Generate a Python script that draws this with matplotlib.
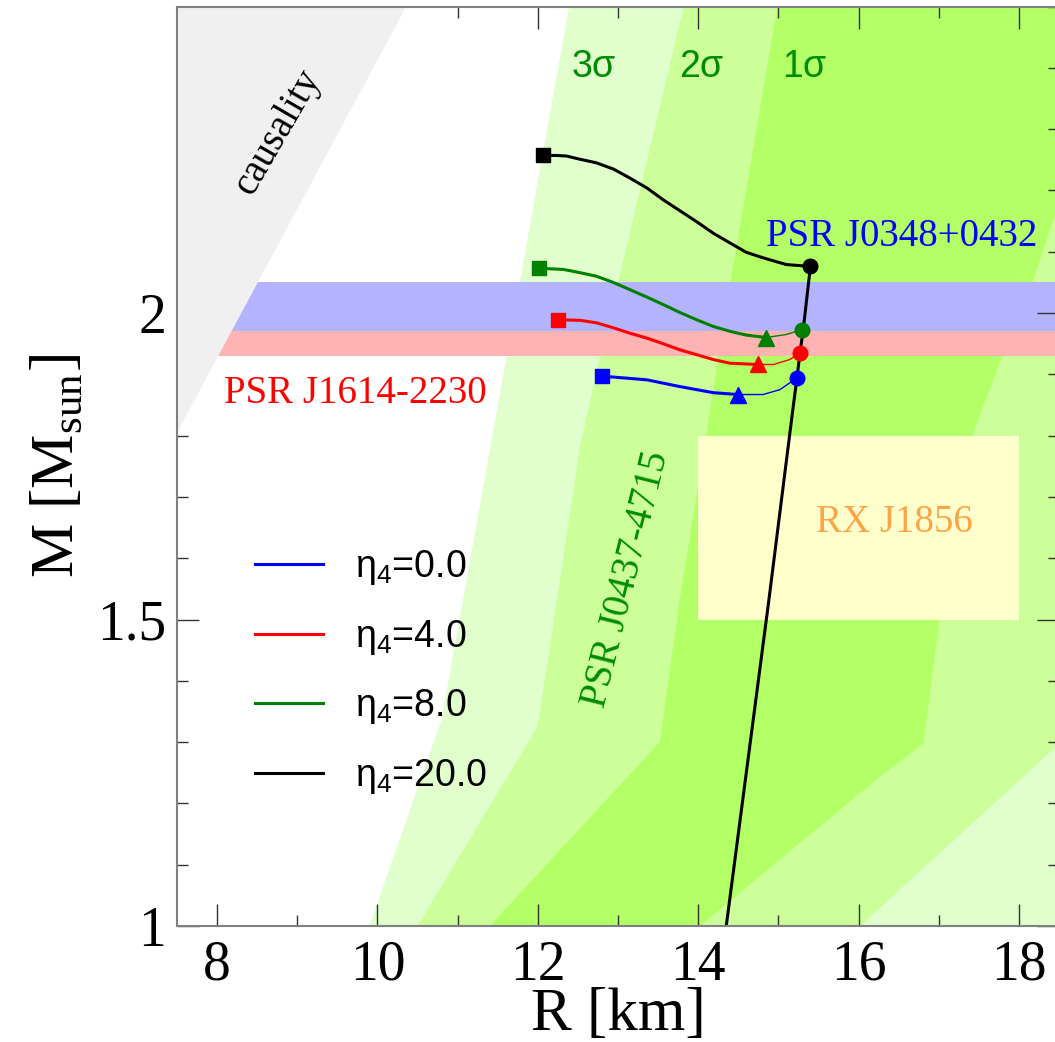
import numpy as np
import matplotlib.pyplot as plt
from matplotlib.patches import Polygon, Rectangle

plt.rcParams['mathtext.fontset'] = 'custom'
plt.rcParams['mathtext.rm'] = 'Liberation Serif'
plt.rcParams['mathtext.sf'] = 'Liberation Sans'

SERIF = 'Liberation Serif'
SANS = 'Liberation Sans'

R_MIN, R_MAX = 7.5, 18.5
M_MIN, M_MAX = 1.0, 2.5

# PSR J0437-4715 confidence regions: left / right edges as (R, M) vertices
c3_left_R = [12.39, 10.80, 9.90]
c3_left_M = [2.50, 1.337, 1.00]
c2_left_R = [13.82, 12.71, 12.52, 12.00, 10.50]
c2_left_M = [2.50, 1.891, 1.777, 1.326, 1.00]
c2_right_R = [16.02, 18.50]
c2_right_M = [1.00, 1.297]
c1_left_R = [14.99, 14.42, 14.10, 13.77, 13.52, 11.40]
c1_left_M = [2.50, 2.065, 1.80, 1.532, 1.30, 1.00]
c1_right_R = [14.02, 16.27, 16.81, 17.01, 17.43, 17.80, 18.17, 18.50]
c1_right_M = [1.00, 1.244, 1.298, 1.50, 1.805, 1.932, 2.05, 2.18]

# causality limit
caus_R = [7.50, 10.36]
caus_M = [1.805, 2.50]

# mass measurements (central value, error)
j0348 = (2.01, 0.04)
j1614 = (1.97, 0.04)
# RX J1856 box
rx_R = (14.0, 18.0)
rx_M = (1.5, 1.8)

# hadronic branch shared by all eta_4
stem_R = [14.35, 14.65, 14.88, 15.18, 15.23, 15.27, 15.31, 15.40]
stem_M = [1.00, 1.30, 1.53, 1.842, 1.892, 1.935, 1.973, 2.076]

eta4 = [0.0, 4.0, 8.0, 20.0]
colors = ['blue', 'red', 'green', 'black']

# mixed phase (onset circle -> triangle), thin line
mix_R = [
    [15.23, 15.02, 14.81, 14.50],
    [15.27, 15.14, 14.94, 14.74],
    [15.30, 15.10, 14.85],
    [],
]
mix_M = [
    [1.894, 1.875, 1.867, 1.867],
    [1.935, 1.924, 1.916, 1.916],
    [1.973, 1.965, 1.960],
    [],
]
# quark branch (triangle -> maximum mass square), thick line
quark_R = [
    [14.50, 14.19, 13.77, 13.36, 12.80],
    [14.74, 14.40, 14.19, 13.98, 13.77, 13.56, 13.36, 13.15, 12.94, 12.73, 12.53, 12.25],
    [14.85, 14.60, 14.40, 14.19, 13.98, 13.77, 13.56, 13.36, 13.15, 12.94, 12.73, 12.52,
     12.32, 12.02],
    [15.40, 15.10, 15.02, 14.81, 14.60, 14.40, 14.19, 13.98, 13.77, 13.56, 13.36, 13.15,
     12.94, 12.73, 12.52, 12.36, 12.23, 12.07],
]
quark_M = [
    [1.867, 1.870, 1.880, 1.891, 1.897],
    [1.916, 1.918, 1.924, 1.932, 1.940, 1.950, 1.959, 1.967, 1.976, 1.984, 1.988, 1.989],
    [1.960, 1.964, 1.970, 1.978, 1.989, 2.001, 2.014, 2.026, 2.038, 2.050, 2.060, 2.066,
     2.071, 2.073],
    [2.076, 2.079, 2.082, 2.090, 2.099, 2.114, 2.130, 2.149, 2.167, 2.185, 2.204, 2.220,
     2.235, 2.245, 2.251, 2.256, 2.257, 2.257],
]


def region(left_R, left_M, right_R, right_M):
    pts = list(zip(left_R, left_M)) + list(zip(right_R, right_M)) + [(R_MAX, M_MAX)]
    return pts


def draw_background(ax):
    c3 = region(c3_left_R, c3_left_M, [R_MAX], [M_MIN])
    c2 = region(c2_left_R, c2_left_M, c2_right_R, c2_right_M)
    c1 = region(c1_left_R, c1_left_M, c1_right_R, c1_right_M)
    for pts, col in [(c3, '#e0ffcc'), (c2, '#ccff99'), (c1, '#b3ff66')]:
        ax.add_patch(Polygon(pts, closed=True, facecolor=col, edgecolor='none', zorder=0))

    ax.add_patch(Rectangle((rx_R[0], rx_M[0]), rx_R[1] - rx_R[0], rx_M[1] - rx_M[0],
                           facecolor='#ffffcc', edgecolor='none', zorder=1))
    ax.axhspan(j1614[0] - j1614[1], j1614[0] + j1614[1], color='#ffb3b3', lw=0, zorder=1)
    ax.axhspan(j0348[0] - j0348[1], j0348[0] + j0348[1], color='#b3b3ff', lw=0, zorder=1.1)

    caus = [(caus_R[0], caus_M[0]), (caus_R[1], caus_M[1]), (R_MIN, M_MAX)]
    ax.add_patch(Polygon(caus, closed=True, facecolor='#f0f0f0', edgecolor='none', zorder=2))


def draw_curves(ax):
    ax.plot(stem_R, stem_M, color='black', lw=2.2, zorder=4)
    for i, col in enumerate(colors):
        if mix_R[i]:
            ax.plot(mix_R[i], mix_M[i], color=col, lw=1.0, zorder=3)
            ax.plot(mix_R[i][-1], mix_M[i][-1], '^', color=col, ms=11, zorder=5)
        ax.plot(quark_R[i], quark_M[i], color=col, lw=2.2, zorder=3,
                solid_joinstyle='round', label=r'η$_\mathsf{4}$=%.1f' % eta4[i])
        # onset of the mixed phase and maximum mass
        start_R = mix_R[i][0] if mix_R[i] else quark_R[i][0]
        start_M = mix_M[i][0] if mix_M[i] else quark_M[i][0]
        ax.plot(start_R, start_M, 'o', color=col, ms=10.5, zorder=6)
        ax.plot(quark_R[i][-1], quark_M[i][-1], 's', color=col, ms=9.5, zorder=6)


def draw_labels(ax):
    green = '#008c00'
    for x, s in [(12.69, '3σ'), (14.04, '2σ'), (15.32, '1σ')]:
        ax.text(x, 2.385, s, color=green, fontsize=27, family=SANS, ha='center', va='baseline')
    ax.text(13.11, 1.565, 'PSR J0437-4715', color=green, fontsize=28, family=SERIF,
            rotation=76, ha='center', va='center')
    ax.text(14.85, 2.11, 'PSR J0348+0432', color='blue', fontsize=28, family=SERIF,
            ha='left', va='baseline')
    ax.text(8.08, 1.853, 'PSR J1614-2230', color='red', fontsize=28, family=SERIF,
            ha='left', va='baseline')
    ax.text(16.45, 1.658, 'RX J1856', color='#ffa347', fontsize=28, family=SERIF,
            ha='center', va='center')
    ax.text(8.76, 2.296, 'causality', color='black', fontsize=28, family=SERIF,
            rotation=60, ha='center', va='center')


if __name__ == '__main__':
    fig = plt.figure(figsize=(10.55, 10.42), dpi=100)
    ax = fig.add_axes([177 / 1055, 116 / 1042, 882 / 1055, 919.5 / 1042])

    draw_background(ax)
    draw_curves(ax)
    draw_labels(ax)

    ax.set_xlim(R_MIN, R_MAX)
    ax.set_ylim(M_MIN, M_MAX)
    ax.set_xticks([8, 10, 12, 14, 16, 18])
    ax.set_xticks(np.arange(8, 19, 1), minor=True)
    ax.set_yticks([1, 1.5, 2])
    ax.set_yticklabels(['1', '1.5', '2'])
    ax.set_yticks(np.arange(1, 2.51, 0.1), minor=True)
    ax.tick_params(which='both', direction='in', top=True, right=True,
                   color='0.2', width=1.0, labelsize=40, zorder=10)
    ax.tick_params(which='major', length=16)
    ax.tick_params(axis='x', which='major', pad=10)
    ax.tick_params(axis='y', which='major', pad=8)
    ax.tick_params(which='minor', length=8)
    for lab in ax.get_xticklabels() + ax.get_yticklabels():
        lab.set_family(SERIF)
    for sp in ax.spines.values():
        sp.set_color('0.5')
        sp.set_linewidth(1.5)
        sp.set_zorder(10)

    ax.set_xlabel('R [km]', fontsize=44, family=SERIF, labelpad=-3)
    ax.set_ylabel(r'M [M$_{\mathrm{sun}}$]', fontsize=44, family=SERIF, labelpad=8)

    ax.legend(loc='center left', bbox_to_anchor=((255 - 177) / 882, (926 - 672) / 919.5),
              frameon=False, borderpad=0, borderaxespad=0, prop={'family': SANS, 'size': 27},
              handlelength=1.81, handletextpad=0.85, labelspacing=0.82)

    fig.savefig('out.png', dpi=100)
